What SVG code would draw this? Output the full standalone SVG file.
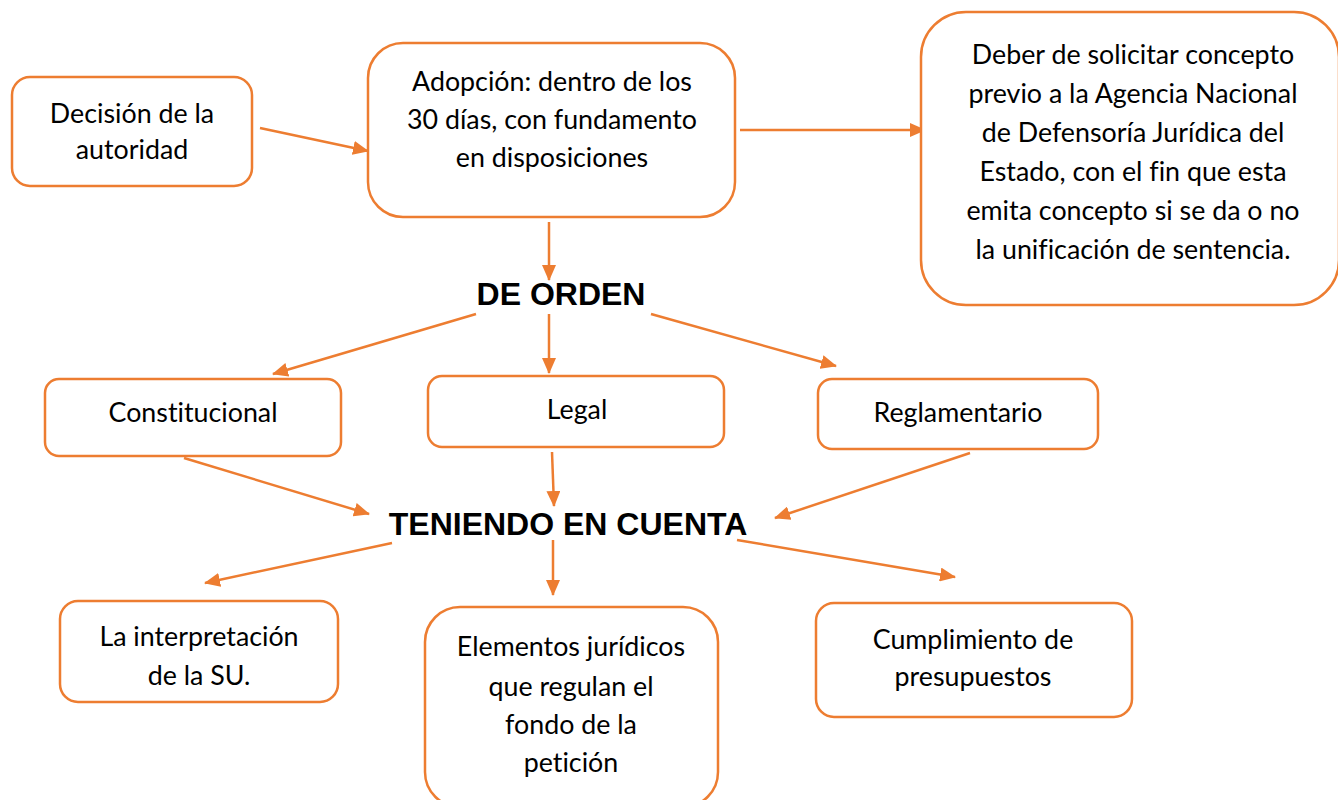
<svg xmlns="http://www.w3.org/2000/svg" width="1338" height="800" viewBox="0 0 1338 800">
<style>
.box{fill:#fff;stroke:#ED7D31;stroke-width:2.5}
.t{font-family:Lato,"Open Sans",sans-serif;font-size:26.8px;fill:#000;text-anchor:middle;font-variant-ligatures:none}
.h{font-family:"Liberation Sans",Arial,sans-serif;font-weight:bold;font-size:32px;fill:#000;text-anchor:middle}
.c{stroke:#ED7D31;stroke-width:2.5;fill:none;marker-end:url(#ah)}
</style>
<defs>
<marker id="ah" markerUnits="userSpaceOnUse" markerWidth="16" markerHeight="14" refX="15" refY="7" orient="auto">
<path d="M0,0 L16,7 L0,14 Z" fill="#ED7D31"/>
</marker>
</defs>
<rect width="1338" height="800" fill="#fff"/>
<g id="connectors">
<line class="c" x1="260" y1="128" x2="368" y2="151"/>
<line class="c" x1="740" y1="130" x2="925" y2="130"/>
<line class="c" x1="549" y1="222" x2="549" y2="280"/>
<line class="c" x1="476" y1="314" x2="273" y2="374"/>
<line class="c" x1="549" y1="314" x2="549" y2="373"/>
<line class="c" x1="651" y1="314" x2="836" y2="366"/>
<line class="c" x1="184" y1="458" x2="369" y2="514"/>
<line class="c" x1="552" y1="452" x2="554" y2="506"/>
<line class="c" x1="970" y1="453" x2="775" y2="518"/>
<line class="c" x1="392" y1="543" x2="205" y2="583"/>
<line class="c" x1="553" y1="540" x2="553" y2="595"/>
<line class="c" x1="737" y1="540" x2="955" y2="577"/>
</g>
<g id="n-decision">
<rect class="box" x="12" y="77" width="240" height="109" rx="18"/>
<text class="t" x="132" y="123">Decisión de la</text>
<text class="t" x="132" y="159">autoridad</text>
</g>
<g id="n-adopcion">
<rect class="box" x="368" y="43" width="367" height="174" rx="35"/>
<text class="t" x="552" y="91">Adopción: dentro de los</text>
<text class="t" x="552" y="129">30 días, con fundamento</text>
<text class="t" x="552" y="167">en disposiciones</text>
</g>
<g id="n-deber">
<rect class="box" x="921" y="12" width="418" height="293" rx="45"/>
<text class="t" x="1133" y="64">Deber de solicitar concepto</text>
<text class="t" x="1133" y="103">previo a la Agencia Nacional</text>
<text class="t" x="1133" y="142">de Defensoría Jurídica del</text>
<text class="t" x="1133" y="181">Estado, con el fin que esta</text>
<text class="t" x="1133" y="220">emita concepto si se da o no</text>
<text class="t" x="1133" y="259">la unificación de sentencia.</text>
</g>
<g id="n-deorden">
<text class="h" x="561" y="305">DE ORDEN</text>
</g>
<g id="n-constitucional">
<rect class="box" x="45" y="379" width="296" height="77" rx="14"/>
<text class="t" x="193" y="422">Constitucional</text>
</g>
<g id="n-legal">
<rect class="box" x="428" y="376" width="296" height="71" rx="14"/>
<text class="t" x="577" y="419">Legal</text>
</g>
<g id="n-reglamentario">
<rect class="box" x="818" y="379" width="280" height="70" rx="14"/>
<text class="t" x="958" y="422">Reglamentario</text>
</g>
<g id="n-teniendo">
<text class="h" x="568" y="535">TENIENDO EN CUENTA</text>
</g>
<g id="n-interpretacion">
<rect class="box" x="60" y="601" width="278" height="101" rx="18"/>
<text class="t" x="199" y="646">La interpretación</text>
<text class="t" x="199" y="685">de la SU.</text>
</g>
<g id="n-elementos">
<rect class="box" x="425" y="607" width="293" height="200" rx="35"/>
<text class="t" x="571" y="656">Elementos jurídicos</text>
<text class="t" x="571" y="696">que regulan el</text>
<text class="t" x="571" y="734">fondo de la</text>
<text class="t" x="571" y="772">petición</text>
</g>
<g id="n-cumplimiento">
<rect class="box" x="816" y="603" width="316" height="114" rx="18"/>
<text class="t" x="973" y="649">Cumplimiento de</text>
<text class="t" x="973" y="686">presupuestos</text>
</g>
</svg>
